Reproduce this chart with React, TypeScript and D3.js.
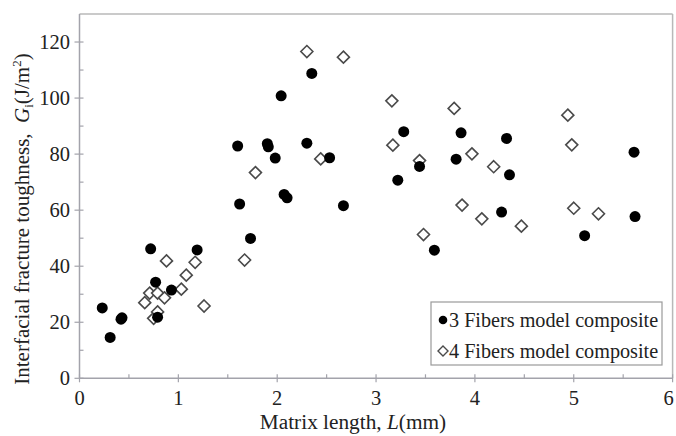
import React from "react";
import * as d3 from "d3";

const fiber3X = [0.23, 0.31, 0.42, 0.43, 0.72, 0.77, 0.79, 0.93, 1.19, 1.60, 1.62, 1.73, 1.90, 1.91, 1.98, 2.04, 2.07, 2.10, 2.30, 2.35, 2.53, 2.67, 3.22, 3.28, 3.44, 3.59, 3.81, 3.86, 4.27, 4.32, 4.35, 5.11, 5.61, 5.62];
const fiber3Y = [25.1, 14.6, 21.1, 21.6, 46.2, 34.3, 21.8, 31.5, 45.8, 82.9, 62.2, 49.9, 83.7, 82.6, 78.6, 100.8, 65.6, 64.4, 83.9, 108.8, 78.7, 61.6, 70.7, 88.0, 75.6, 45.7, 78.2, 87.6, 59.3, 85.6, 72.6, 50.9, 80.7, 57.7];

const fiber4X = [0.66, 0.71, 0.75, 0.79, 0.79, 0.86, 0.88, 1.03, 1.08, 1.17, 1.26, 1.67, 1.78, 2.30, 2.44, 2.67, 3.16, 3.17, 3.44, 3.48, 3.79, 3.87, 3.97, 4.07, 4.19, 4.47, 4.94, 4.98, 5.00, 5.25];
const fiber4Y = [27.0, 30.4, 21.4, 23.7, 30.4, 28.7, 41.9, 31.8, 36.8, 41.4, 25.8, 42.2, 73.4, 116.6, 78.3, 114.6, 99.0, 83.2, 77.7, 51.3, 96.3, 61.8, 80.1, 56.9, 75.5, 54.3, 93.9, 83.3, 60.7, 58.7];

const xTicks = [0, 1, 2, 3, 4, 5, 6];
const yTicks = [0, 20, 40, 60, 80, 100, 120];
const legendLabels = ["3 Fibers model composite", "4 Fibers model composite"];

const W = 676;
const H = 436;
const FONT = "Liberation Serif";
const AXIS = "#a3a3ab";
const TXT = { fontFamily: FONT };

export default function App() {
  const x = d3.scaleLinear().domain([0, 6]).range([79.5, 672.6]);
  const y = d3.scaleLinear().domain([0, 130]).range([378.3, 14]);
  const minorX = d3.range(0.5, 6, 1);
  const minorY = d3.range(10, 130, 20);
  const diamond = (cx: number, cy: number, r: number) =>
    `M${cx},${cy - r}L${cx + r},${cy}L${cx},${cy + r}L${cx - r},${cy}Z`;

  return (
    <svg width={W} height={H} style={{ position: "absolute", left: 0, top: 0, background: "#fff", fontFamily: FONT }}>
      {/* frame */}
      <line x1={x(0)} x2={x(6)} y1={y(130)} y2={y(130)} stroke="#b8b8b8" strokeWidth={1.5} />
      <line x1={x(6)} x2={x(6)} y1={y(130)} y2={y(0)} stroke="#b8b8b8" strokeWidth={1.5} />
      <line x1={x(0)} x2={x(0)} y1={y(130)} y2={y(0)} stroke={AXIS} strokeWidth={1.5} />
      <line x1={x(0)} x2={x(6)} y1={y(0)} y2={y(0)} stroke={AXIS} strokeWidth={1.5} />
      {yTicks.map((t) => (
        <g key={"yt" + t}>
          <line x1={x(0) - 5} x2={x(0) + 4} y1={y(t)} y2={y(t)} stroke={AXIS} strokeWidth={1.2} />
          <text x={70} y={y(t)} dy="0.35em" textAnchor="end" fontSize={20.5} fill="#222" style={TXT}>{t}</text>
        </g>
      ))}
      {minorY.map((t) => (
        <line key={"my" + t} x1={x(0)} x2={x(0) + 4} y1={y(t)} y2={y(t)} stroke={AXIS} strokeWidth={1.2} />
      ))}
      {xTicks.map((t) => (
        <g key={"xt" + t}>
          <line x1={x(t)} x2={x(t)} y1={y(0) - 4} y2={y(0) + 4} stroke={AXIS} strokeWidth={1.2} />
          <text x={t === 6 ? x(t) - 4 : x(t)} y={405} textAnchor="middle" fontSize={20.5} fill="#222" style={TXT}>{t}</text>
        </g>
      ))}
      {minorX.map((t) => (
        <line key={"mx" + t} x1={x(t)} x2={x(t)} y1={y(0) - 4} y2={y(0)} stroke={AXIS} strokeWidth={1.2} />
      ))}
      {/* axis titles */}
      <text x={353} y={429} textAnchor="middle" fontSize={21.3} fill="#222" style={TXT}>
        Matrix length, <tspan fontStyle="italic">L</tspan>(mm)
      </text>
      <text transform={`translate(29,${219}) rotate(-90)`} textAnchor="middle" fontSize={21} fill="#222" style={{ ...TXT, whiteSpace: "pre" }}>
        Interfacial fracture toughness,{"  "}<tspan fontStyle="italic">G</tspan><tspan fontSize={13} dy={4}>i</tspan><tspan dy={-4}>(J/m</tspan><tspan fontSize={13} dy={-8}>2</tspan><tspan dy={8}>)</tspan>
      </text>
      {/* data */}
      {fiber4X.map((v, i) => (
        <path key={"d" + i} d={diamond(x(v), y(fiber4Y[i]), 6)} fill="#fff" stroke="#4a4a4a" strokeWidth={1.6} />
      ))}
      {fiber3X.map((v, i) => (
        <circle key={"c" + i} cx={x(v)} cy={y(fiber3Y[i])} r={5.5} fill="#000" />
      ))}
      {/* legend */}
      <rect x={431} y={302} width={231} height={63} fill="#fff" stroke="#9a9a9a" strokeWidth={1.2} />
      <circle cx={443} cy={320} r={4.3} fill="#000" />
      <text x={449} y={320} dy="0.35em" fontSize={20.2} fill="#222" style={TXT}>{legendLabels[0]}</text>
      <path d={diamond(443, 351, 5)} fill="#fff" stroke="#4a4a4a" strokeWidth={1.4} />
      <text x={449} y={351} dy="0.35em" fontSize={20.2} fill="#222" style={TXT}>{legendLabels[1]}</text>
    </svg>
  );
}
